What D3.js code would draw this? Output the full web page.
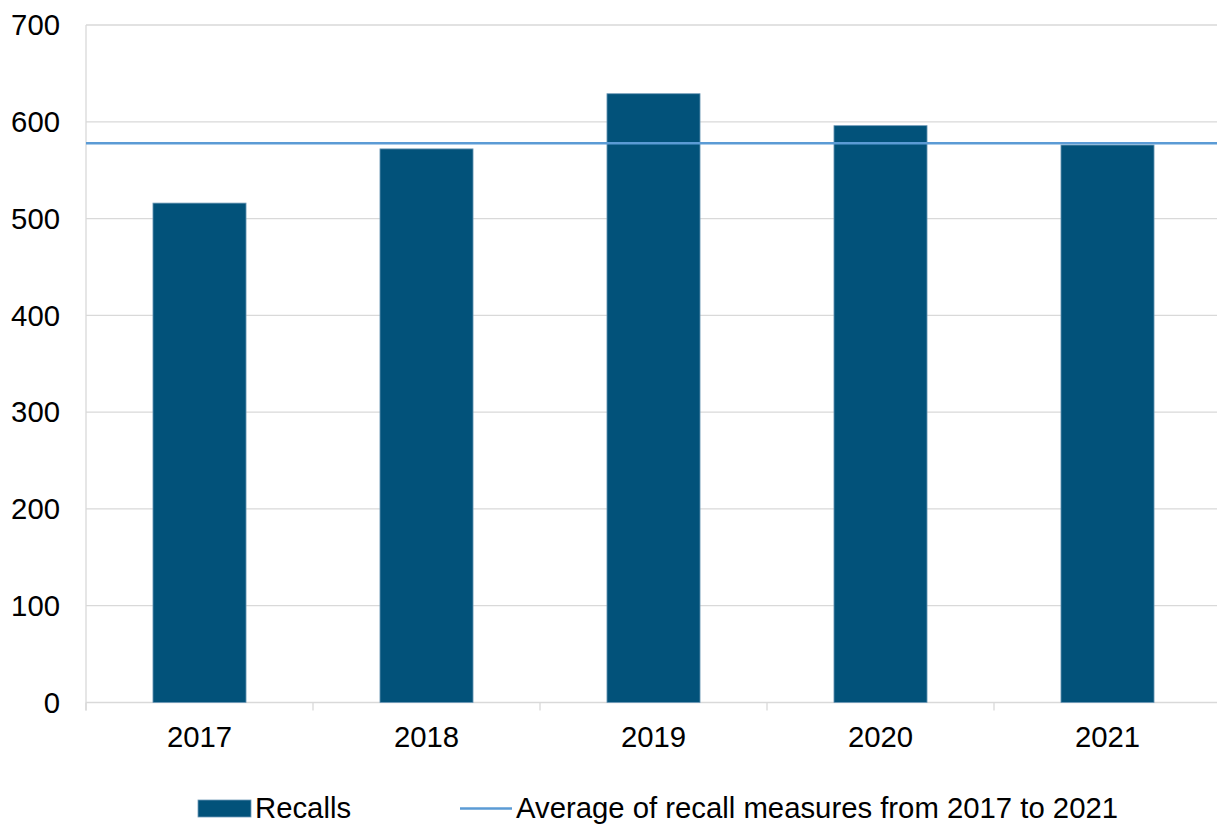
<!DOCTYPE html>
<html>
<head>
<meta charset="utf-8">
<script src="https://cdn.jsdelivr.net/npm/d3@7"></script>
<style>
  html, body { margin: 0; padding: 0; background: #fff; }
  svg { display: block; font-family: "Liberation Sans", Arial, sans-serif; }
</style>
</head>
<body>
<svg id="chart" width="1217" height="824"></svg>
<script>
// Recall counts per year, with their five-year average
const years = ["2017", "2018", "2019", "2020", "2021"];
const recalls = [516, 572, 629, 596, 576];
const yTicks = [0, 100, 200, 300, 400, 500, 600, 700];
const averageValue = d3.mean(recalls);
const legendLabels = ["Recalls", "Average of recall measures from 2017 to 2021"];

(function draw() {
  const svg = d3.select("#chart");
  const plotLeft = 86, plotRight = 1221, plotTop = 25, plotBottom = 702.5;
  const barColor = "#02527A";
  const avgColor = "#5B9BD5";
  const gridColor = "#d9d9d9";
  const fontSize = 29.3;

  const x = d3.scaleBand().domain(years).range([plotLeft, plotRight])
    .paddingInner(0.59).paddingOuter(0.295);
  const y = d3.scaleLinear().domain([0, 700]).range([plotBottom, plotTop]);

  // Horizontal gridlines
  svg.append("g").selectAll("line").data(yTicks).join("line")
    .attr("x1", plotLeft).attr("x2", plotRight)
    .attr("y1", d => y(d)).attr("y2", d => y(d))
    .attr("stroke", gridColor).attr("stroke-width", 1.3);

  // Left axis line and category tick marks
  svg.append("line").attr("x1", plotLeft).attr("x2", plotLeft)
    .attr("y1", plotTop).attr("y2", plotBottom + 8)
    .attr("stroke", gridColor).attr("stroke-width", 1.3);
  const step = x.step();
  svg.append("g").selectAll("line").data(d3.range(years.length + 1)).join("line")
    .attr("x1", i => plotLeft + i * step).attr("x2", i => plotLeft + i * step)
    .attr("y1", plotBottom).attr("y2", plotBottom + 8)
    .attr("stroke", gridColor).attr("stroke-width", 1.3);

  // Y tick labels
  svg.append("g").selectAll("text").data(yTicks).join("text")
    .attr("x", 60).attr("y", d => y(d))
    .attr("dy", "0.35em")
    .attr("text-anchor", "end")
    .attr("font-size", fontSize).attr("fill", "#000")
    .text(d => d);

  // Bars
  svg.append("g").selectAll("rect").data(recalls).join("rect")
    .attr("x", (d, i) => x(years[i]))
    .attr("width", x.bandwidth())
    .attr("y", d => y(d))
    .attr("height", d => y(0) - y(d))
    .attr("fill", barColor)
    .attr("stroke", "#6f9ab8").attr("stroke-width", 0.8);

  // X tick labels
  svg.append("g").selectAll("text").data(years).join("text")
    .attr("x", d => x(d) + x.bandwidth() / 2)
    .attr("y", 747)
    .attr("text-anchor", "middle")
    .attr("font-size", fontSize).attr("fill", "#000")
    .text(d => d);

  // Average line
  svg.append("line")
    .attr("x1", plotLeft).attr("x2", 1217)
    .attr("y1", y(averageValue)).attr("y2", y(averageValue))
    .attr("stroke", avgColor).attr("stroke-width", 2.5);

  // Legend
  const lg = svg.append("g");
  lg.append("rect").attr("x", 198).attr("y", 800).attr("width", 53).attr("height", 17)
    .attr("fill", barColor).attr("stroke", "#6f9ab8").attr("stroke-width", 0.8);
  lg.append("text").attr("x", 255).attr("y", 818)
    .attr("font-size", fontSize).attr("fill", "#000").text(legendLabels[0]);
  lg.append("line").attr("x1", 460).attr("x2", 512).attr("y1", 808.5).attr("y2", 808.5)
    .attr("stroke", avgColor).attr("stroke-width", 2.5);
  lg.append("text").attr("x", 516).attr("y", 818)
    .attr("font-size", fontSize).attr("fill", "#000").text(legendLabels[1]);
})();
</script>
</body>
</html>
